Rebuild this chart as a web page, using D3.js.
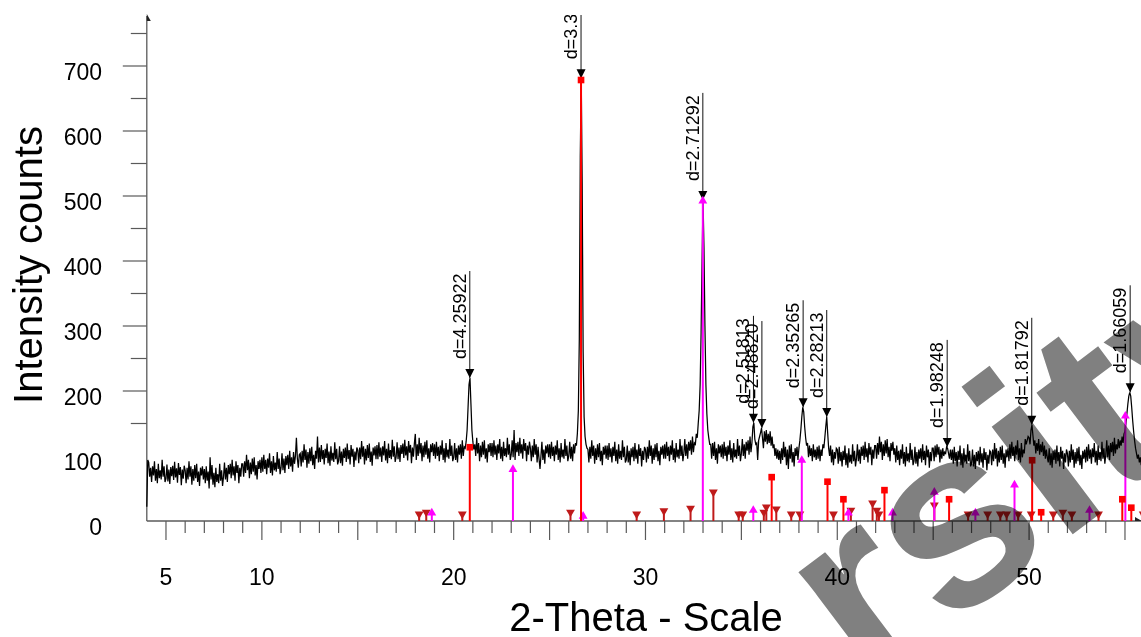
<!DOCTYPE html>
<html><head><meta charset="utf-8">
<script src="https://cdn.jsdelivr.net/npm/d3@7"></script>
<style>
body{margin:0;background:#fff;}
svg{display:block;font-family:Arial,"Liberation Sans",sans-serif;}
</style>
</head><body>
<svg id="chart" width="1141" height="637"></svg>
<script>
// ---- measured pattern: 2-theta grid start/step (degrees) and counts (one row per degree) ----
const thetaStart = 4.0;
const thetaStep = 0.05;
const intensity = [
/* 4 */ 22,94,90,68,82,60,84,70,92,62,80,58,88,66,78,64,94,68,84,60,
/* 5 */ 65,87,61,79,57,83,69,85,63,91,67,81,59,89,71,83,55,79,65,85,
/* 6 */ 78,58,82,64,92,68,84,56,80,62,86,66,88,60,76,54,82,70,84,64,
/* 7 */ 80,58,84,62,76,50,98,64,86,56,74,52,82,60,72,58,88,62,78,54,
/* 8 */ 68,90,64,82,60,86,72,88,66,94,70,84,62,92,74,86,58,82,68,88,
/* 9 */ 88,68,92,74,102,78,94,66,90,72,96,76,98,70,86,64,92,80,94,74,
/*10 */ 98,76,102,80,94,72,96,82,104,74,92,70,100,78,90,76,106,80,96,72,
/*11 */ 82,104,78,96,74,100,86,102,80,108,84,98,76,106,88,100,128,96,82,102,
/*12 */ 104,84,108,90,118,94,110,82,106,88,112,92,114,86,102,80,108,96,130,90,
/*13 */ 113,91,117,95,109,87,111,97,119,89,107,85,115,93,105,91,121,95,111,87,
/*14 */ 93,115,89,107,85,111,97,113,91,119,95,109,87,117,99,111,83,107,93,113,
/*15 */ 109,89,113,95,123,99,115,87,111,93,117,97,119,91,107,85,113,101,115,95,
/*16 */ 117,95,121,99,113,91,115,101,123,93,111,89,119,97,109,95,125,99,115,91,
/*17 */ 99,121,95,113,91,117,103,119,97,125,101,115,93,123,105,117,89,113,99,119,
/*18 */ 134,94,118,100,128,104,120,92,116,98,122,102,124,96,112,90,118,106,120,100,
/*19 */ 118,96,122,100,114,92,116,102,124,94,112,90,120,98,110,96,126,100,116,92,
/*20 */ 98,120,94,112,90,116,102,118,96,124,100,114,112,122,140,175,210,220,180,140,
/*21 */ 122,110,118,100,128,104,120,92,116,98,122,102,124,96,112,90,118,106,120,100,
/*22 */ 120,98,124,102,116,94,118,104,126,96,114,92,122,100,112,98,128,102,118,94,
/*23 */ 102,124,98,140,94,120,106,122,100,128,104,118,96,126,108,120,92,116,102,122,
/*24 */ 112,92,116,98,126,102,118,90,114,96,80,100,122,94,110,88,116,104,118,98,
/*25 */ 118,96,122,100,114,92,116,102,124,94,112,90,120,98,110,96,126,100,116,92,
/*26 */ 100,122,96,114,92,118,104,120,116,135,170,280,560,681,520,260,160,130,118,112,
/*27 */ 110,90,114,96,124,100,116,88,112,94,118,98,120,92,108,86,114,102,116,96,
/*28 */ 116,94,120,98,112,90,114,100,122,92,110,88,118,96,108,94,124,98,114,90,
/*29 */ 94,116,90,108,86,112,98,114,92,120,96,110,88,118,100,112,84,108,94,114,
/*30 */ 110,90,114,96,124,100,116,88,112,94,118,98,120,92,108,86,114,102,116,96,
/*31 */ 118,96,122,100,114,92,116,102,124,94,112,90,120,98,110,96,126,100,116,92,
/*32 */ 104,126,100,118,96,122,108,124,102,130,106,120,118,134,128,150,170,210,290,400,
/*33 */ 494,420,300,210,165,140,128,118,118,96,120,100,122,94,112,88,118,104,116,98,
/*34 */ 118,96,122,100,114,92,116,102,124,94,112,90,120,98,110,96,126,100,116,92,
/*35 */ 104,126,100,118,96,122,108,124,102,130,106,120,145,151,126,118,120,94,124,130,
/*36 */ 136,143,128,112,138,122,140,118,134,120,138,116,130,112,118,100,112,96,110,94,
/*37 */ 108,88,112,94,122,98,114,86,110,80,116,96,118,90,106,84,112,100,114,94,
/*38 */ 112,124,140,160,175,168,145,128,116,120,98,116,100,112,92,118,98,110,94,114,
/*39 */ 96,116,92,110,100,118,112,128,145,160,135,112,100,116,90,110,86,106,96,112,
/*40 */ 110,88,114,92,106,84,108,94,116,86,104,82,112,90,102,88,118,92,108,84,
/*41 */ 96,118,92,110,88,114,100,116,94,122,98,112,90,120,102,114,86,110,96,116,
/*42 */ 116,96,120,102,130,106,122,94,118,100,124,104,126,98,114,92,120,108,122,102,
/*43 */ 112,90,116,94,108,86,110,96,118,88,106,84,114,92,104,90,120,94,110,86,
/*44 */ 92,114,88,106,84,110,96,112,90,118,94,108,86,116,98,110,82,106,92,112,
/*45 */ 112,92,116,98,118,102,114,90,110,96,112,100,106,104,114,112,104,96,110,94,
/*46 */ 110,88,114,92,106,84,108,94,116,86,104,82,112,90,102,88,118,92,108,84,
/*47 */ 88,110,84,102,80,106,92,108,86,114,90,104,82,112,94,106,78,102,88,108,
/*48 */ 106,86,110,92,120,96,112,84,108,90,114,94,116,88,104,82,110,98,112,92,
/*49 */ 118,96,122,100,114,92,116,102,124,94,112,90,120,98,110,104,126,118,124,130,
/*50 */ 128,118,140,148,132,116,124,104,120,108,126,102,118,106,122,100,116,96,110,98,
/*51 */ 90,112,86,104,82,108,94,110,88,116,92,106,84,114,96,108,80,104,90,110,
/*52 */ 104,84,108,90,118,94,110,82,106,88,112,92,114,86,102,80,108,96,110,90,
/*53 */ 114,92,118,96,110,88,112,98,120,90,108,86,116,94,106,92,122,96,112,88,
/*54 */ 102,124,98,116,94,120,106,122,100,128,104,118,110,126,112,124,116,130,120,134,
/*55 */ 138,150,165,180,192,198,192,175,155,138,124,112,104,96,102,90,98,86,94,84
];

// ---- reference pattern 1 (red, square markers) ----
const redTheta  = [20.84, 26.64, 36.58, 39.49, 40.32, 42.46, 45.83, 50.16, 50.63, 54.86, 55.33];
const redCounts = [115, 680, 69, 62, 35, 49, 35, 95, 15, 35, 22];

// ---- reference pattern 2 (magenta, up-triangle markers) ----
const magTheta  = [18.86, 23.09, 26.75, 32.99, 35.62, 38.15, 40.58, 42.88, 45.06, 47.2, 49.24, 53.15, 55.02];
const magCounts = [14, 81, 9, 494, 18, 95, 14, 14, 46, 14, 57, 18, 163];

// ---- reference pattern 3 (dark red, down-triangle markers) ----
const drTheta  = [18.2, 18.57, 20.45, 26.09, 29.54, 30.96, 32.35, 33.54, 34.86, 35.07, 36.17, 36.3, 36.82, 37.6, 38.05, 39.8, 40.71, 41.84, 42.06, 42.17, 45.06, 46.82, 47.84, 48.5, 48.83, 49.43, 50.11, 51.26, 51.76, 52.23, 53.62, 55.95];
const drCounts = [9, 12, 9, 12, 9, 14, 18, 43, 9, 9, 12, 20, 17, 9, 9, 9, 15, 26, 15, 9, 23, 9, 9, 9, 9, 9, 9, 9, 12, 9, 9, 9];

// ---- peak annotations ----
const peakLabels = ["d=4.25922","d=3.34346","d=2.71292","d=2.51813","d=2.48820","d=2.35265","d=2.28213","d=1.98248","d=1.81792","d=1.66059"];
const peakTheta  = [20.84, 26.64, 32.99, 35.63, 36.07, 38.22, 39.45, 45.73, 50.14, 55.27];
const peakCounts = [220, 681, 494, 151, 143, 175, 160, 114, 148, 198];

// ---- axes ----
const xTickLabels = [5, 10, 20, 30, 40, 50];
const yTickLabels = [0, 100, 200, 300, 400, 500, 600, 700];
const xTitle = "2-Theta - Scale";
const yTitle = "Intensity counts";
const watermark = "rsity";

const svg = d3.select("#chart");
const W = 1141, H = 637;
const x = d3.scaleLinear().domain([4, 56]).range([146.8, 146.8 + 52 * 19.18]);
const y = d3.scaleLinear().domain([0, 777]).range([521, 15.95]);
const axisColor = "#5a5a5a";

svg.append("defs").append("clipPath").attr("id", "plotClip")
  .append("rect").attr("x", 146).attr("y", 15).attr("width", W - 146).attr("height", H - 15);

// Y axis
svg.append("line").attr("x1", x(4)).attr("x2", x(4)).attr("y1", y(777)).attr("y2", y(0))
  .attr("stroke", axisColor).attr("stroke-width", 1.3);
svg.append("path").attr("d", `M${x(4)},${y(777)-2} L${x(4)+4},${y(777)+5} L${x(4)},${y(777)+5} Z`).attr("fill", "#222");
const yMinor = d3.range(150, 800, 50);
svg.selectAll(".ytick").data(yMinor).join("line")
  .attr("x1", d => x(4) - (d % 100 === 0 ? 24 : 16)).attr("x2", x(4))
  .attr("y1", d => y(d)).attr("y2", d => y(d))
  .attr("stroke", axisColor).attr("stroke-width", 1.2);
svg.selectAll(".ylab").data(yTickLabels).join("text")
  .attr("x", 102).attr("y", d => y(d) + 14)
  .attr("text-anchor", "end").attr("font-size", 23).attr("fill", "#000")
  .text(d => d);

// X axis
svg.append("line").attr("x1", x(4)).attr("x2", W).attr("y1", y(0)).attr("y2", y(0))
  .attr("stroke", axisColor).attr("stroke-width", 1.3);
svg.append("path").attr("d", `M${W+1},${y(0)} L${W-6},${y(0)-4} L${W-6},${y(0)} Z`).attr("fill", "#222");
const xTicks = d3.range(5, 56, 1);
svg.selectAll(".xtick").data(xTicks).join("line")
  .attr("x1", d => x(d)).attr("x2", d => x(d))
  .attr("y1", y(0)).attr("y2", d => y(0) + (d % 5 === 0 ? 19 : 12))
  .attr("stroke", axisColor).attr("stroke-width", 1.2);
svg.selectAll(".xlab").data(xTickLabels).join("text")
  .attr("x", d => x(d)).attr("y", 585)
  .attr("text-anchor", "middle").attr("font-size", 23).attr("fill", "#000")
  .text(d => d);

// titles
svg.append("text").attr("x", 646).attr("y", 631).attr("text-anchor", "middle")
  .attr("font-size", 40).attr("fill", "#000").text(xTitle);
svg.append("text").attr("transform", "translate(42,265) rotate(-90)").attr("text-anchor", "middle")
  .attr("font-size", 40).attr("fill", "#000").text(yTitle);

const plot = svg.append("g").attr("clip-path", "url(#plotClip)");

// measured pattern
const line = d3.line()
  .x((d, i) => x(thetaStart + i * thetaStep))
  .y(d => y(d));
plot.append("path").datum(intensity).attr("d", line)
  .attr("fill", "none").attr("stroke", "#000").attr("stroke-width", 1.25);

// annotations (lines + arrows + labels)
const peaks = peakLabels.map((l, i) => ({label: l, t: peakTheta[i], c: peakCounts[i]}));
const gap = 19, textLen = 86;
plot.selectAll(".pline").data(peaks).join("line")
  .attr("x1", d => x(d.t)).attr("x2", d => x(d.t))
  .attr("y1", d => y(d.c) - gap - textLen - 2).attr("y2", d => y(d.c))
  .attr("stroke", "#111").attr("stroke-width", 1);
plot.selectAll(".parrow").data(peaks).join("path")
  .attr("d", d => { const px = x(d.t), py = y(d.c); return `M${px},${py} L${px-4.5},${py-9} L${px+4.5},${py-9} Z`; })
  .attr("fill", "#000");
plot.selectAll(".plab").data(peaks).join("text")
  .attr("transform", d => `translate(${x(d.t) - 4},${y(d.c) - gap}) rotate(-90)`)
  .attr("font-size", 18).attr("fill", "#000")
  .text(d => d.label);

// reference sticks
function sticks(thetas, counts, color, symbol, rot) {
  const data = thetas.map((t, i) => ({t, c: counts[i]}));
  const g = plot.append("g");
  g.selectAll("line").data(data).join("line")
    .attr("x1", d => x(d.t)).attr("x2", d => x(d.t))
    .attr("y1", y(0)).attr("y2", d => y(d.c))
    .attr("stroke", color).attr("stroke-width", 2);
  g.selectAll("path").data(data).join("path")
    .attr("d", d3.symbol().type(symbol).size(symbol === d3.symbolSquare ? 44 : 34))
    .attr("transform", d => `translate(${x(d.t)},${y(d.c) + (rot ? -1 : 1)}) rotate(${rot})`)
    .attr("fill", color);
}
sticks(drTheta, drCounts, "#bf1a1a", d3.symbolTriangle, 180);
sticks(magTheta, magCounts, "#ff00ff", d3.symbolTriangle, 0);
sticks(redTheta, redCounts, "#ff0000", d3.symbolSquare, 0);

// watermark (multiplied over the chart)
svg.append("text")
  .attr("transform", "translate(866,690) rotate(-37)")
  .attr("font-size", 255).attr("font-weight", "bold")
  .attr("fill", "#808080")
  .style("mix-blend-mode", "multiply")
  .text(watermark);
</script>
</body></html>
